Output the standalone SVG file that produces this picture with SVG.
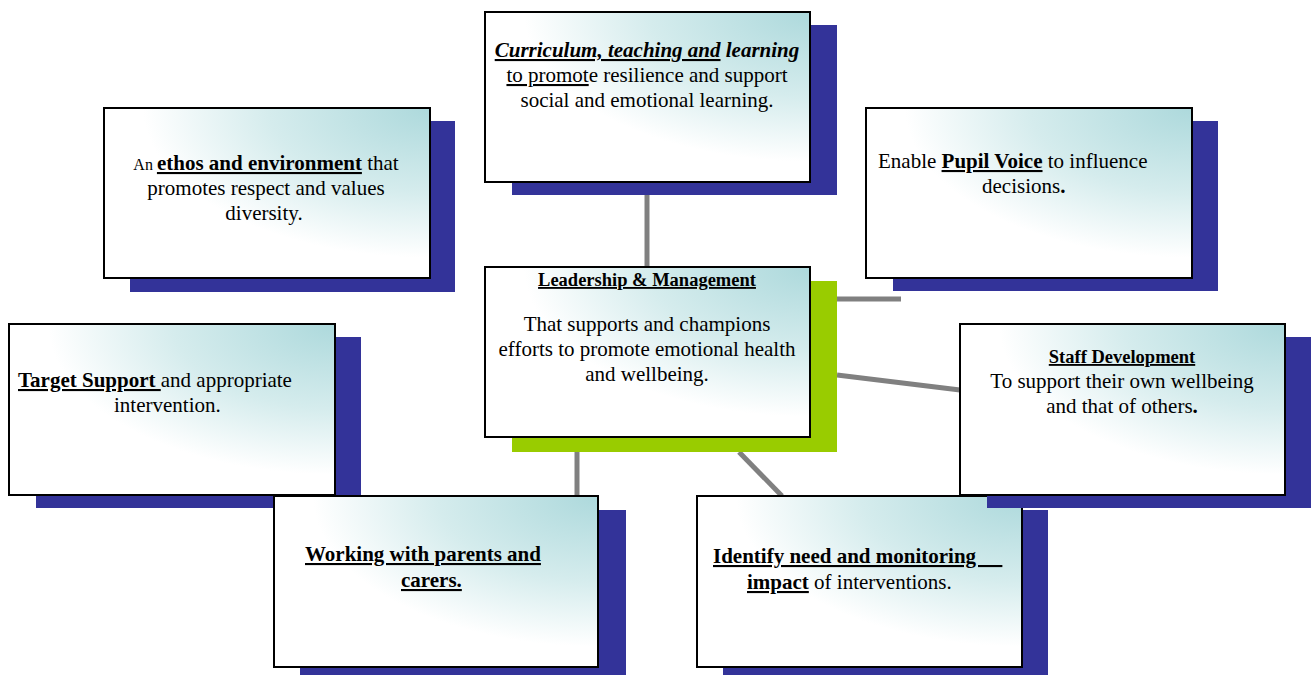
<svg xmlns="http://www.w3.org/2000/svg" width="1311" height="675" viewBox="0 0 1311 675">
<defs>
<radialGradient id="fillg" cx="1" cy="0" r="1.1" fx="1" fy="0">
<stop offset="0" stop-color="#ADD9DC"/>
<stop offset="0.45" stop-color="#D5ECED"/>
<stop offset="0.8" stop-color="#FFFFFF"/>
<stop offset="1" stop-color="#FFFFFF"/>
</radialGradient>
</defs>
<style>
.shadow{fill:#333399}
.green{fill:#99CC00}
.box{fill:url(#fillg);stroke:#000;stroke-width:2}
.conn{stroke:#808080;stroke-width:5;fill:none}
text{font-family:'Liberation Serif',serif;font-size:21px;fill:#000}
.b{font-weight:bold}
.i{font-style:italic}
.u{text-decoration:underline}
.t{font-size:18.5px;font-weight:bold;text-decoration:underline}
.mid{text-anchor:middle}
</style>
<rect width="1311" height="675" fill="#FFFFFF"/>
<g id="connectors">
<line class="conn" x1="647" y1="195" x2="647" y2="267"/>
<line class="conn" x1="837" y1="299" x2="901" y2="299"/>
<line class="conn" x1="837" y1="375" x2="960" y2="390"/>
<line class="conn" x1="577" y1="452" x2="577" y2="496"/>
<line class="conn" x1="739" y1="452" x2="782" y2="496"/>
</g>
<g id="curriculum">
<rect class="shadow" x="512" y="25" width="325" height="170"/>
<rect class="box" x="485" y="12" width="325" height="170"/>
<text class="mid" x="647" y="57"><tspan class="b i u">Curriculum, teaching and</tspan><tspan class="b i"> learning</tspan></text>
<text class="mid" x="647" y="82"><tspan class="u">to promot</tspan>e resilience and support</text>
<text class="mid" x="647" y="107">social and emotional learning.</text>
</g>
<g id="ethos">
<rect class="shadow" x="130" y="121" width="325" height="171"/>
<rect class="box" x="104" y="108" width="326" height="170"/>
<text class="mid" x="266" y="170"><tspan style="font-size:16px">An </tspan><tspan class="b u">ethos and environment</tspan> that</text>
<text class="mid" x="266" y="195">promotes respect and values</text>
<text class="mid" x="264" y="220">diversity.</text>
</g>
<g id="pupil-voice">
<rect class="shadow" x="893" y="121" width="325" height="170"/>
<rect class="box" x="866" y="108" width="326" height="170"/>
<text x="878" y="168">Enable <tspan class="b u">Pupil Voice</tspan> to influence</text>
<text x="982" y="193">decisions<tspan class="b">.</tspan></text>
</g>
<g id="target-support">
<rect class="shadow" x="36" y="337" width="325" height="171"/>
<rect class="box" x="9" y="324" width="326" height="171"/>
<text x="18" y="387" xml:space="preserve"><tspan class="b u">Target Support </tspan>and appropriate</text>
<text x="114" y="412">intervention.</text>
</g>
<g id="working-parents">
<rect class="shadow" x="300" y="510" width="326" height="165"/>
<rect class="box" x="274" y="496" width="324" height="171"/>
<text class="b u" x="305" y="561">Working with parents and</text>
<text class="b u" x="401" y="587">carers.</text>
</g>
<g id="identify-need">
<rect class="shadow" x="723" y="510" width="325" height="165"/>
<rect class="box" x="697" y="496" width="325" height="171"/>
<text x="713" y="563"><tspan class="b u">Identify need and monitoring&#160;&#160;&#160;&#160;&#160;</tspan></text>
<text x="747" y="589"><tspan class="b u">impact</tspan> of interventions.</text>
</g>
<g id="staff-development">
<rect class="shadow" x="987" y="337" width="324" height="171"/>
<rect class="box" x="960" y="324" width="325" height="171"/>
<text class="t mid" x="1122" y="363">Staff Development</text>
<text class="mid" x="1122" y="388">To support their own wellbeing</text>
<text class="mid" x="1122" y="413">and that of others<tspan class="b">.</tspan></text>
</g>
<g id="leadership">
<rect class="green" x="512" y="281" width="325" height="171"/>
<rect class="box" x="485" y="267" width="325" height="170"/>
<text class="t mid" x="647" y="286">Leadership &amp; Management</text>
<text class="mid" x="647" y="331">That supports and champions</text>
<text class="mid" x="647" y="356">efforts to promote emotional health</text>
<text class="mid" x="647" y="381">and wellbeing.</text>
</g>
</svg>
